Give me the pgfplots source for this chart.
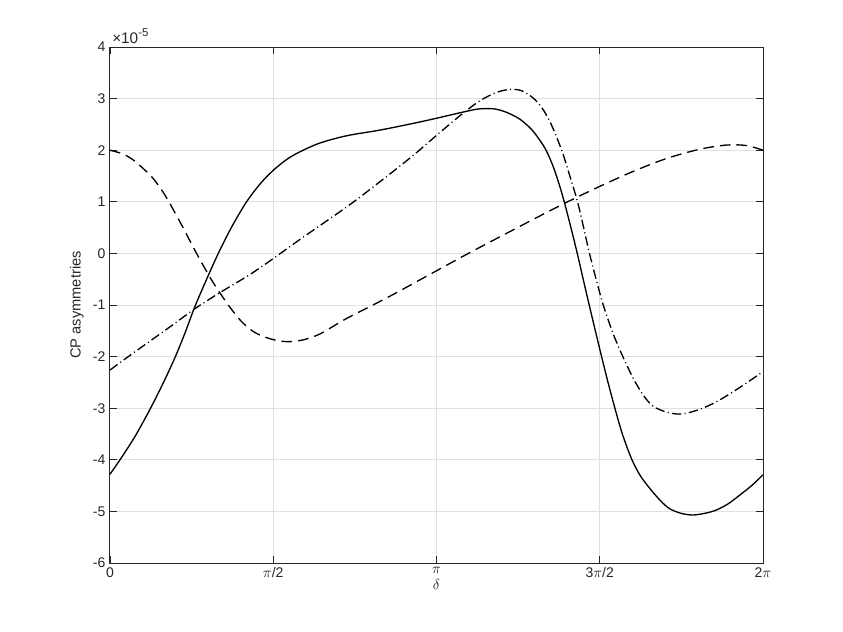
\documentclass[border=0pt]{standalone}
\usepackage{fontspec}
\setmainfont{Liberation Sans}
\usepackage{pgfplots}
\pgfplotsset{compat=1.18}
\definecolor{gridgray}{gray}{0.88}
\definecolor{axgray}{gray}{0.15}
\begin{document}
\begin{tikzpicture}
\useasboundingbox (-82.5pt,-51.75pt) rectangle (549.75pt,422.25pt);
\begin{axis}[
    at={(0pt,0pt)}, anchor=south west,
    scale only axis,
    width=489.75pt, height=387pt,
    xmin=0, xmax=6.28319,
    ymin=-6, ymax=4,
    xtick={0,1.5708,3.14159,4.71239,6.28319},
    xticklabels={0,$\pi$/2,$\pi$,3$\pi$/2,2$\pi$},
    ytick={-6,-5,...,4},
    scaled y ticks=false,
    /pgf/number format/assume math mode=true,
    tick align=inside,
    major tick length=5pt,
    tick style={axgray, line width=0.6pt},
    axis line style={axgray, line width=0.75pt},
    grid=major,
    major grid style={gridgray, line width=0.75pt},
    ticklabel style={font=\fontsize{10.5}{12}\selectfont, text=axgray},
    xlabel={$\delta$},
    ylabel={CP asymmetries},
    label style={font=\fontsize{11}{13}\selectfont, text=axgray},
    xlabel style={yshift=6pt},
    clip=false
]

% solid
\addplot[black, line width=1pt, smooth] coordinates {
    (0,-4.28) (0.096,-4.0) (0.24,-3.55) (0.385,-3.02) (0.51,-2.52)
    (0.625,-2.02) (0.72,-1.55) (0.817,-1.03) (0.93,-0.50) (1.042,0.0)
    (1.17,0.51) (1.314,1.0) (1.45,1.36) (1.571,1.61) (1.70,1.82)
    (1.828,1.97) (2.021,2.14) (2.277,2.28) (2.598,2.39) (2.918,2.52)
    (3.143,2.62) (3.40,2.74) (3.55,2.80) (3.70,2.80) (3.82,2.73)
    (3.945,2.60) (4.057,2.40) (4.137,2.19) (4.201,1.98) (4.265,1.68)
    (4.32,1.35) (4.368,1.02) (4.435,0.5) (4.496,0.0) (4.553,-0.5)
    (4.611,-1.0) (4.670,-1.5) (4.730,-2.0) (4.792,-2.5) (4.858,-3.0)
    (4.93,-3.5) (5.018,-3.98) (5.10,-4.3) (5.196,-4.56) (5.30,-4.80)
    (5.387,-4.95) (5.50,-5.04) (5.613,-5.07) (5.74,-5.03) (5.838,-4.97)
    (5.95,-4.85) (6.062,-4.68) (6.18,-4.49) (6.283,-4.29)
};

% dash-dot
\addplot[black, line width=1pt, smooth,
    dash pattern=on 7pt off 2.5pt on 0.8pt off 2.5pt] coordinates {
    (0,-2.26) (0.224,-1.93) (0.545,-1.47) (0.833,-1.05) (1.058,-0.76)
    (1.346,-0.41) (1.571,-0.10) (1.827,0.27) (2.277,0.90) (2.598,1.39)
    (2.918,1.90) (3.143,2.29) (3.368,2.67) (3.56,2.96) (3.72,3.12)
    (3.85,3.18) (3.95,3.16) (4.02,3.09) (4.089,2.98) (4.17,2.78)
    (4.25,2.48) (4.346,2.0) (4.42,1.53) (4.496,1.02) (4.555,0.52)
    (4.611,0.02) (4.68,-0.52) (4.746,-1.0) (4.84,-1.55) (4.939,-2.02)
    (5.05,-2.48) (5.15,-2.80) (5.24,-2.98) (5.38,-3.09) (5.516,-3.11)
    (5.69,-3.01) (5.84,-2.87) (5.997,-2.68) (6.14,-2.49) (6.283,-2.29)
};

% dashed
\addplot[black, line width=1pt, smooth,
    dash pattern=on 8pt off 4.5pt] coordinates {
    (0,2.0) (0.12,1.93) (0.224,1.81) (0.385,1.52) (0.48,1.28)
    (0.561,1.02) (0.70,0.51) (0.833,0.0) (0.985,-0.54) (1.138,-1.0)
    (1.27,-1.33) (1.40,-1.54) (1.55,-1.66) (1.70,-1.71) (1.85,-1.68)
    (2.0,-1.58) (2.117,-1.45) (2.277,-1.26) (2.55,-0.98) (2.758,-0.76)
    (2.966,-0.53) (3.175,-0.30) (3.384,-0.07) (3.608,0.17) (3.817,0.39)
    (4.073,0.66) (4.393,0.99) (4.714,1.30) (5.035,1.59) (5.356,1.84)
    (5.677,2.02) (5.933,2.10) (6.125,2.09) (6.283,2.0)
};

\end{axis}
\node[anchor=base west, inner sep=0pt, text=axgray, font=\fontsize{11.5}{13}\selectfont]
    at ([xshift=1.5pt, yshift=3pt]current axis.north west)
    {×10\raisebox{0.8ex}{\fontsize{8.5}{9}\selectfont -5}};
\end{tikzpicture}
\end{document}
